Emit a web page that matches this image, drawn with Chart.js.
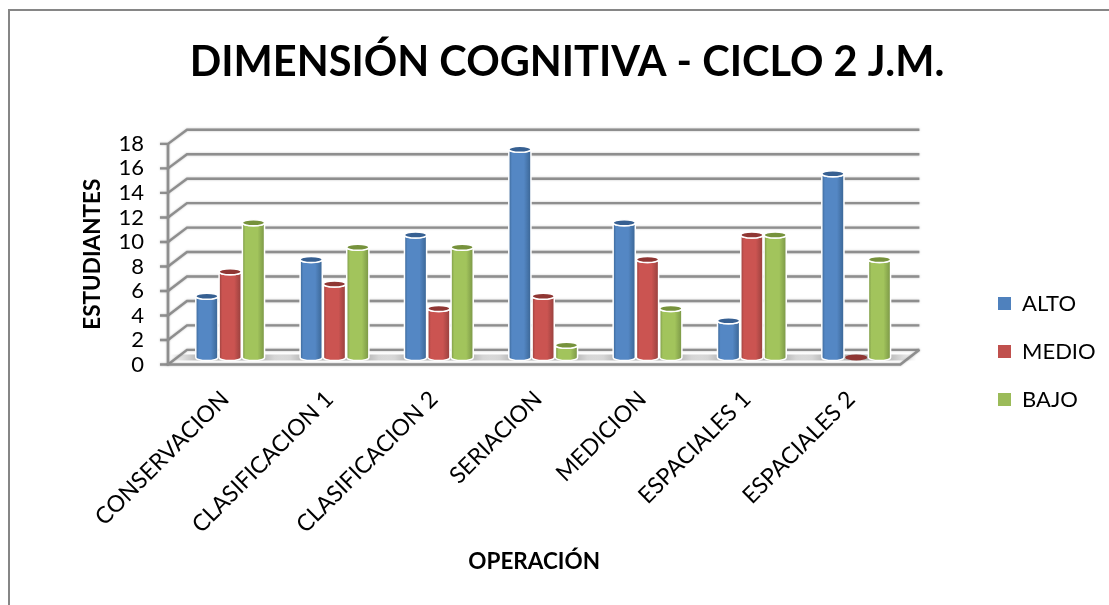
<!DOCTYPE html>
<html>
<head>
<meta charset="utf-8">
<title>Dimensión cognitiva</title>
<script src="https://cdn.jsdelivr.net/npm/chart.js@4"></script>
<style>
    html, body { margin: 0; padding: 0; background: #fff; }
    canvas { display: block; }
</style>
</head>
<body>
<canvas id="grafica" width="1109" height="605"></canvas>
<script>
var categorias = ['CONSERVACION', 'CLASIFICACION 1', 'CLASIFICACION 2', 'SERIACION', 'MEDICION', 'ESPACIALES 1', 'ESPACIALES 2'];
var alto = [5, 8, 10, 17, 11, 3, 15];
var medio = [7, 6, 4, 5, 8, 10, 0];
var bajo = [11, 9, 9, 1, 4, 10, 8];
var yTicks = [0, 2, 4, 6, 8, 10, 12, 14, 16, 18];

var fuente = 'Lato, "Open Sans", sans-serif';
var gris = '#8e8e8e';

// colores: leyenda, centro, borde oscuro, tapa
var tonos = [
    ['#4f81bd', '#5487c4', '#3a6594', '#376092'],
    ['#c0504d', '#cb5451', '#96403d', '#8f3633'],
    ['#9bbb59', '#a2c45c', '#7a9646', '#76923c']
];

function soloTicks(scale) {
    scale.ticks = yTicks.map(function (v) { return { value: v }; });
}

// mueve solo lo que dibuja ese metodo, sin tocar la escala
function mover(scale, metodo, dx, dy) {
    var original = scale[metodo];
    scale[metodo] = function () {
        var ctx = scale.ctx;
        ctx.save();
        ctx.translate(dx, dy);
        original.apply(scale, arguments);
        ctx.restore();
    };
}

function cilindro(ctx, b, t) {
    var r = b.width / 2;
    var ry = 3;
    var izq = b.x - r, der = b.x + r;
    ctx.save();
    if (b.base - b.y > 1) {
        var g = ctx.createLinearGradient(izq, 0, der, 0);
        g.addColorStop(0, t[2]);
        g.addColorStop(0.14, t[1]);
        g.addColorStop(0.68, t[1]);
        g.addColorStop(1, t[2]);
        ctx.beginPath();
        ctx.moveTo(izq, b.y);
        ctx.lineTo(izq, b.base);
        ctx.ellipse(b.x, b.base, r, ry, 0, Math.PI, 0, true);
        ctx.lineTo(der, b.y);
        ctx.ellipse(b.x, b.y, r, ry, 0, 0, Math.PI, false);
        ctx.closePath();
        ctx.fillStyle = g;
        ctx.fill();
        ctx.strokeStyle = '#fff';
        ctx.lineWidth = 1.5;
        ctx.stroke();
    }
    ctx.beginPath();
    ctx.ellipse(b.x, b.y, r, ry, 0, 0, Math.PI * 2);
    ctx.fillStyle = t[3];
    ctx.fill();
    if (b.base - b.y > 1) {
        ctx.strokeStyle = '#fff';
        ctx.lineWidth = 1.5;
        ctx.stroke();
    }
    ctx.restore();
}

var fondo3d = {
    id: 'fondo3d',
    beforeDatasetsDraw: function (chart) {
        var ctx = chart.ctx;
        var frente = chart.scales.yFront, atras = chart.scales.yBack;
        var a = chart.chartArea;
        var xF0 = a.left - 10, xF1 = a.right - 8, xA0 = a.left + 9, xA1 = a.right + 11;
        var y0F = frente.getPixelForValue(0), y0A = atras.getPixelForValue(0);
        var y18F = frente.getPixelForValue(18);

        ctx.save();
        // marco del grafico
        ctx.strokeStyle = '#868686';
        ctx.lineWidth = 2;
        ctx.beginPath();
        ctx.moveTo(9, chart.height);
        ctx.lineTo(9, 10);
        ctx.lineTo(chart.width, 10);
        ctx.stroke();

        // piso
        ctx.fillStyle = '#fdfdfd';
        ctx.beginPath();
        ctx.moveTo(xF0, y0F);
        ctx.lineTo(xA0, y0A);
        ctx.lineTo(xA1, y0A);
        ctx.lineTo(xF1, y0F);
        ctx.closePath();
        ctx.fill();

        // lineas de fondo
        ctx.shadowColor = 'rgba(120,120,120,0.5)';
        ctx.shadowBlur = 2;
        ctx.strokeStyle = gris;
        ctx.lineWidth = 2.4;
        yTicks.forEach(function (v) {
            var yF = frente.getPixelForValue(v), yA = atras.getPixelForValue(v);
            ctx.beginPath();
            ctx.moveTo(xF0 - 8, yF);
            ctx.lineTo(xF0, yF);
            ctx.lineTo(xA0, yA);
            ctx.lineTo(xA1, yA);
            ctx.stroke();
        });
        ctx.lineWidth = 2.6;
        ctx.beginPath();
        ctx.moveTo(xF0, y18F);
        ctx.lineTo(xF0, y0F);
        ctx.lineTo(xF1, y0F);
        ctx.lineTo(xA1, y0A);
        ctx.stroke();
        ctx.shadowBlur = 0;

        // sombra de las barras sobre el piso
        var barras = chart.getDatasetMeta(0).data, ultimas = chart.getDatasetMeta(2).data;
        var base = chart.scales.y.getPixelForValue(0);
        barras.forEach(function (b, i) {
            var x0 = b.x - b.width / 2 - 26, x1 = ultimas[i].x + ultimas[i].width / 2 + 26;
            var g = ctx.createLinearGradient(x0, 0, x1, 0);
            g.addColorStop(0, 'rgba(130,130,130,0)');
            g.addColorStop(0.25, 'rgba(130,130,130,0.6)');
            g.addColorStop(0.75, 'rgba(130,130,130,0.6)');
            g.addColorStop(1, 'rgba(130,130,130,0)');
            ctx.fillStyle = g;
            ctx.fillRect(x0, base - 3, x1 - x0, 6);
        });
        ctx.restore();
    },
    beforeDatasetDraw: function () {
        return false;
    },
    afterDatasetsDraw: function (chart) {
        chart.data.datasets.forEach(function (d, k) {
            chart.getDatasetMeta(k).data.forEach(function (b) {
                cilindro(chart.ctx, b, tonos[k]);
            });
        });
    },
    afterLayout: function (chart) {
        var l = chart.legend;
        l.left = 972;
        l.right = 1109;
        l.top += 49;
        l.bottom += 49;
    }
};

var grafica = new Chart(document.getElementById('grafica'), {
    type: 'bar',
    plugins: [fondo3d],
    data: {
        labels: categorias,
        datasets: [
            { label: 'ALTO', data: alto, backgroundColor: tonos[0][0], yAxisID: 'y' },
            { label: 'MEDIO', data: medio, backgroundColor: tonos[1][0], yAxisID: 'y' },
            { label: 'BAJO', data: bajo, backgroundColor: tonos[2][0], yAxisID: 'y' }
        ]
    },
    options: {
        responsive: false,
        animation: false,
        layout: { padding: { left: 25 } },
        datasets: { bar: { categoryPercentage: 0.67, barPercentage: 0.95 } },
        plugins: {
            title: {
                display: true,
                text: 'DIMENSIÓN COGNITIVA - CICLO 2 J.M.',
                color: '#000',
                font: { family: fuente, size: 41.5, weight: 'bold', lineHeight: 1.2 },
                padding: { top: 38, bottom: 42 }
            },
            legend: {
                position: 'right',
                labels: {
                    color: '#000',
                    boxWidth: 13,
                    boxHeight: 13,
                    padding: 26,
                    font: { family: fuente, size: 22 }
                }
            },
            tooltip: { enabled: false }
        },
        scales: {
            x: {
                grid: { display: false },
                border: { display: false },
                afterFit: function (s) { s.height = 240.5; },
                ticks: {
                    color: '#000',
                    minRotation: 45,
                    maxRotation: 45,
                    padding: 13,
                    autoSkip: false,
                    font: { family: fuente, size: 23 }
                },
                title: {
                    display: true,
                    text: 'OPERACIÓN',
                    color: '#000',
                    font: { family: fuente, size: 22.5, weight: 'bold' },
                    padding: { bottom: 30 }
                }
            },
            y: {
                display: false,
                min: -0.573,
                max: 18.59
            },
            yFront: {
                position: 'left',
                min: 0,
                max: 19.15,
                afterBuildTicks: soloTicks,
                afterFit: function (s) { s.width = 153; },
                grid: { display: false },
                border: { display: false },
                ticks: {
                    color: '#000',
                    padding: 26,
                    autoSkip: false,
                    font: { family: fuente, size: 22 }
                },
                title: {
                    display: true,
                    text: 'ESTUDIANTES',
                    color: '#000',
                    font: { family: fuente, size: 22.5, weight: 'bold' },
                    padding: { top: 54 }
                }
            },
            yBack: {
                position: 'right',
                min: -1.2,
                max: 18,
                afterBuildTicks: soloTicks,
                afterFit: function (s) { s.width = 67; },
                grid: { display: false },
                border: { display: false },
                ticks: { display: false }
            }
        }
    }
});

mover(grafica.scales.yFront, 'drawTitle', 0, 7);
mover(grafica.scales.x, 'drawTitle', -9, 0);
mover(grafica.scales.x, 'drawLabels', -5, 0);
grafica.draw();
</script>
</body>
</html>
